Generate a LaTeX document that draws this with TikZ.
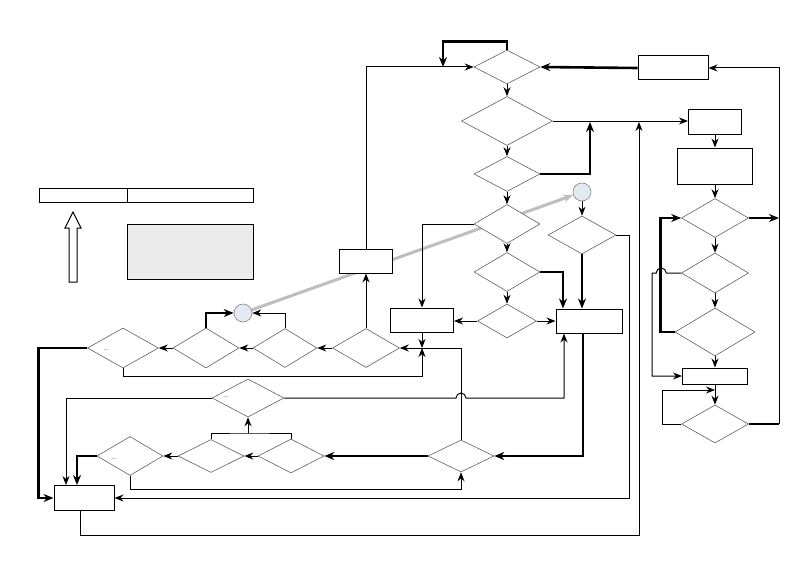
\documentclass[tikz,border=0pt]{standalone}
\usetikzlibrary{arrows.meta, calc, shapes.geometric, backgrounds}
\definecolor{dialine}{HTML}{606060}
\definecolor{knob}{HTML}{E3E9F3}
\definecolor{panel}{HTML}{EBEBEB}
\definecolor{shadowgrey}{HTML}{BEBEBE}
\tikzset{
  >={Stealth[length=9pt, width=7pt]},
  every picture/.style={line join=miter},
  dec/.style 2 args={diamond, draw=dialine, fill=white, line width=0.6pt, inner sep=0pt,
    minimum width=#1, minimum height=#2},
  blk/.style={draw, fill=white, line width=1pt, inner sep=0pt},
  knot/.style={circle, draw=gray, fill=knob, line width=0.6pt, minimum size=18pt, inner sep=0pt},
  wire/.style={line width=1pt},
  flow/.style={->, line width=1pt},
  heavywire/.style={line width=2.6pt},
  heavy/.style={-{Stealth[length=10pt, width=8pt]}, line width=2.6pt},
  dashmark/.style={font=\footnotesize, inner sep=0pt},
}
\begin{document}
\begin{tikzpicture}[x=1pt, y=-1pt]
  \useasboundingbox (0,0) rectangle (810,567);
  % main column
  \node[dec={66pt}{34pt}] (q1) at (507,67) {};
  \node[dec={91pt}{49pt}] (q2) at (507,121) {};
  \node[dec={66pt}{35pt}] (q3) at (507,174) {};
  \node[dec={66pt}{39pt}] (q4) at (507,224) {};
  \node[dec={66pt}{39pt}] (q5) at (507,272) {};
  \node[dec={59pt}{34pt}] (q6) at (507,321) {};
  \node[blk, minimum width=70pt, minimum height=24pt] (r1) at (673,68) {};
  \node[blk, minimum width=63pt, minimum height=24pt] (b2) at (422,320) {};
  \node[blk, minimum width=66pt, minimum height=24pt] (b3) at (589,321) {};
  \node[knot] (c2) at (582,192) {};
  \node[dec={68pt}{38pt}] (q7) at (582,235) {};
  % right column
  \node[blk, minimum width=53pt, minimum height=24pt] (r2) at (715,122) {};
  \node[blk, minimum width=75pt, minimum height=36pt] (r3) at (715,166) {};
  \node[dec={67pt}{39pt}] (s1) at (715,218) {};
  \node[dec={67pt}{40pt}] (s2) at (715,273) {};
  \node[dec={80pt}{48pt}] (s3) at (715,332) {};
  \node[blk, minimum width=65pt, minimum height=16pt] (r4) at (715,376) {};
  \node[dec={67pt}{38pt}] (s4) at (715,424) {};
  % middle row
  \node[blk, minimum width=53pt, minimum height=24pt] (b1) at (366,261) {};
  \node[dec={67pt}{39pt}] (m1) at (366,348) {};
  \node[dec={64pt}{39pt}] (m2) at (285,348) {};
  \node[dec={66pt}{40pt}] (m3) at (206,348) {};
  \node[dec={71pt}{40pt}] (m4) at (123,348) {};
  \node[dashmark] (m4l) at (106,351) {--};
  \node[knot] (c1) at (243,313) {};
  % lower row
  \node[dec={72pt}{38pt}] (n1) at (248,398) {};
  \node[dashmark] (n1l) at (226,398) {--};
  \node[dec={66pt}{32pt}] (n2) at (461,456) {};
  \node[dec={66pt}{34pt}] (n3) at (291,456) {};
  \node[dec={66pt}{33pt}] (n4) at (211,456) {};
  \node[dec={66pt}{39pt}] (n5) at (130,456) {};
  \node[dashmark] (n5l) at (114,460) {--};
  \node[blk, minimum width=60pt, minimum height=25pt] (b4) at (84,498) {};
  % legend
  \node[blk, minimum width=88pt, minimum height=14pt] (keya) at (83,195) {};
  \node[blk, minimum width=126pt, minimum height=14pt] (keyb) at (190,195) {};
  \node[blk, fill=panel, minimum width=126pt, minimum height=55pt] (pane) at (190,251.5) {};
  \draw[wire, fill=white] (69,282) -- (69,228) -- (65,228) -- (73,212) -- (81,228)
    -- (77,228) -- (77,282) -- cycle;
  % junctions
  \coordinate (j0) at (443,67);
  \coordinate (jb) at (422,348);
  \coordinate (t1) at (590,122);
  \coordinate (t2) at (639,122);
  \coordinate (rail) at (779,424);
  \coordinate (k1) at (248,433);
  \coordinate (k2) at (715,390);
  % grey link behind everything
  \begin{scope}[on background layer]
    \draw[shadowgrey, line width=3pt, -{Stealth[length=10pt, width=8pt]}] (c1) -- (c2);
  \end{scope}
  % main column links
  \draw[heavy] (q1.north) -- ++(0,-8) -| (j0);
  \draw[flow] (b1.north) |- (q1.west);
  \draw[heavy] (r1.west) -- (q1.east);
  \draw[flow] (q1.south) -- (q2.north);
  \draw[flow] (q2.south) -- (q3.north);
  \draw[flow] (q3.south) -- (q4.north);
  \draw[flow] (q4.south) -- (q5.north);
  \draw[flow] (q5.south) -- (q6.north);
  \draw[flow] (q2.east) -- (q2.east -| r2.west);
  \draw[heavy] (q3.east) -| (t1);
  \draw[flow] ($(b4.south)+(-4,0)$) -- ++(0,24) -| (t2);
  \draw[flow] (q4.west) -| (b2.north);
  \draw[heavy] (q5.east) -| ($(b3.north)+(-26,0)$);
  \draw[flow] (q6.west) -- (q6.west -| b2.east);
  \draw[flow] (q6.east) -- (q6.east -| b3.west);
  \draw[flow] (c2) -- (q7);
  \draw[heavy] (q7.south) -- (q7.south |- b3.north);
  \draw[flow] (q7.east) -| (629,498) |- (b4.east);
  % right column links
  \draw[flow] (r2.south) -- (r3.north);
  \draw[flow] (r3.south) -- (s1.north);
  \draw[flow] (s1.south) -- (s2.north);
  \draw[flow] (s2.south) -- (s3.north);
  \draw[flow] (s3.south) -- (r4.north);
  \draw[flow] (r4.south) -- (s4.north);
  \draw[flow] (s4.west) -- ++(-19,0) |- (k2);
  \draw[heavy] (s3.west) -- ++(-14,0) |- (s1.west);
  \draw[flow] (s2.west) -- ++(-15,0) arc[start angle=360, end angle=180, radius=5]
    -- ++(-4,0) |- (r4.west);
  \draw[heavy] (s1.east) -- (s1.east -| rail);
  \draw[heavywire] (s4.east) -- (rail);
  \draw[flow] (rail) |- (r1.east);
  % middle row links
  \draw[flow] (m1.north) -- (b1.south);
  \draw[flow] (b2.south) -- (jb);
  \draw[wire] (n2.north) |- (jb);
  \draw[flow] (m4.south) -- ++(0,8) -| (jb);
  \draw[flow] (jb) -- (m1.east);
  \draw[flow] (m1.west) -- (m2.east);
  \draw[flow] (m2.north) |- (c1.east);
  \draw[flow] (m2.west) -- (m3.east);
  \draw[heavy] (m3.north) |- (c1.west);
  \draw[flow] (m3.west) -- (m4.east);
  \draw[heavy] (m4.west) -- ++(-49,0) |- (b4.west);
  % lower row links
  \draw[heavy] ($(b3.south)+(-6,0)$) |- (n2.east);
  \draw[flow] (n1.east) -- ($(n1.east -| n2)+(-5,0)$) arc[start angle=180, end angle=360, radius=5]
    -| ($(b3.south)+(-25,0)$);
  \draw[heavy] (n2.west) -- (n3.east);
  \draw[flow] (n3.west) -- (n4.east);
  \draw[wire] (n4.north) |- (k1) -| (n3.north);
  \draw[flow] (k1) -- (n1.south);
  \draw[flow] (n4.west) -- (n5.east);
  \draw[heavy] (n5.west) -| ($(b4.north)+(-7,0)$);
  \draw[flow] (n5.south) -- ++(0,14) -| (n2.south);
  \draw[flow] (n1.west) -| ($(b4.north)+(-18,0)$);
\end{tikzpicture}
\end{document}
